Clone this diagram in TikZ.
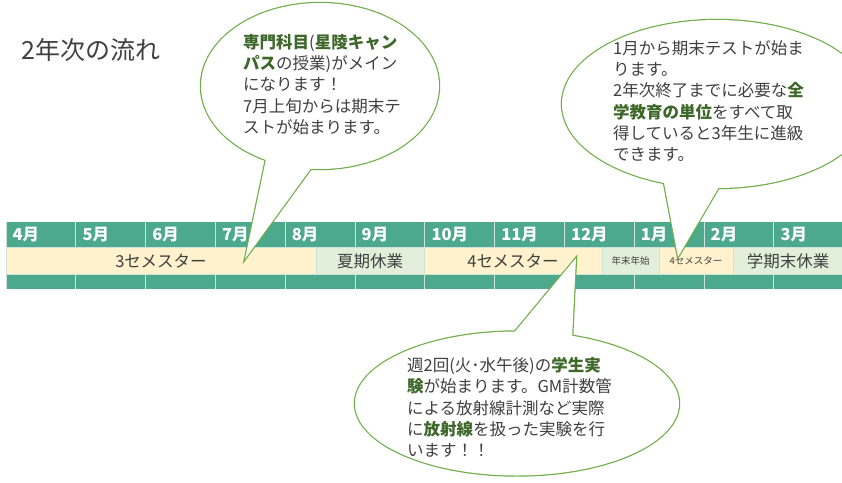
\documentclass[tikz,border=0pt]{standalone}
\usepackage{fontspec}
\setmainfont{Noto Sans CJK JP}
\usetikzlibrary{calc}
\definecolor{barteal}{RGB}{76,169,139}
\definecolor{semcream}{RGB}{255,242,204}
\definecolor{breakgreen}{RGB}{226,239,218}
\definecolor{gridline}{RGB}{205,226,216}
\definecolor{bubbleline}{RGB}{112,173,71}
\definecolor{txtgray}{RGB}{64,64,64}
\definecolor{hlgreen}{RGB}{62,104,42}
\newcommand{\grn}[1]{{\bfseries\color{hlgreen}#1}}

\begin{document}
\begin{tikzpicture}[x=1pt,y=-1pt,
  cell/.style={draw=gridline,line width=0.8pt},
  monthlbl/.style={white,font=\fontsize{16.5}{20}\selectfont\bfseries,anchor=west,inner sep=0pt},
  seglbl/.style={txtgray,font=\fontsize{16.5}{20}\selectfont,inner sep=0pt},
  smalllbl/.style={txtgray,font=\fontsize{9.5}{12}\selectfont,inner sep=0pt},
  bubble/.style={draw=bubbleline,line width=2.4pt,line join=miter},
  bubbletxt/.style={txtgray,font=\fontsize{16.5}{21.3}\selectfont,align=left,anchor=north west,inner sep=0pt}]
\clip (0,0) rectangle (842,482);
\fill[white] (0,0) rectangle (842,482);
\node[txtgray,font=\fontsize{25}{30}\selectfont,anchor=west,inner sep=0pt] (title) at (21,50) {2年次の流れ};
\fill[barteal] (6,222) rectangle (850,247.5);
\fill[barteal] (6,274) rectangle (850,288.5);
\foreach \m [count=\i from 0] in {4,5,6,7,8,9,10,11,12,1,2,3} {
  \draw[gridline,line width=0.8pt] ({6+69.8*\i},222) -- ({6+69.8*\i},247.5);
  \draw[gridline,line width=0.8pt] ({6+69.8*\i},274) -- ({6+69.8*\i},288.5);
  \node[monthlbl] (mon\m) at ({12.5+69.8*\i},235) {{\m}月};
}
\draw[cell,fill=semcream] (6,247.5) rectangle (316,274);
\draw[cell,fill=breakgreen] (316,247.5) rectangle (424.5,274);
\draw[cell,fill=semcream] (424.5,247.5) rectangle (602,274);
\draw[cell,fill=breakgreen] (602,247.5) rectangle (659,274);
\draw[cell,fill=semcream] (659,247.5) rectangle (733,274);
\draw[cell,fill=breakgreen] (733,247.5) rectangle (850,274);
\node[seglbl] (sem3) at (161,261) {3セメスター};
\node[seglbl] (summer) at (370,261) {夏期休業};
\node[seglbl] (sem4) at (513,261) {4セメスター};
\node[smalllbl] (newyear) at (630.5,261) {年末年始};
\node[smalllbl] (sem4b) at (696,261) {4セメスター};
\node[seglbl] (spring) at (788,261) {学期末休業};

\coordinate (tip7) at (245,259);
\coordinate (base7l) at (266,159);
\coordinate (base7r) at (312,167);
\draw[bubble] (320,86) ellipse[x radius=119,y radius=83];
\draw[bubble] ($(tip7)!1.25!(base7l)$) -- (tip7) -- ($(tip7)!1.25!(base7r)$);
\fill[white] (320,86) ellipse[x radius=119,y radius=83];
\fill[white] ($(tip7)!1.25!(base7l)$) -- (tip7) -- ($(tip7)!1.25!(base7r)$) -- cycle;

\coordinate (tip1) at (678,257);
\coordinate (base1l) at (664,183);
\coordinate (base1r) at (719,187);
\draw[bubble] (717,104) ellipse[x radius=155,y radius=84];
\draw[bubble] ($(tip1)!1.25!(base1l)$) -- (tip1) -- ($(tip1)!1.25!(base1r)$);
\fill[white] (717,104) ellipse[x radius=155,y radius=84];
\fill[white] ($(tip1)!1.25!(base1l)$) -- (tip1) -- ($(tip1)!1.25!(base1r)$) -- cycle;

\coordinate (tip12) at (576,258);
\coordinate (base12l) at (513,334);
\coordinate (base12r) at (572,339);
\draw[bubble] (517,403.5) ellipse[x radius=162,y radius=72];
\draw[bubble] ($(tip12)!1.25!(base12l)$) -- (tip12) -- ($(tip12)!1.25!(base12r)$);
\fill[white] (517,403.5) ellipse[x radius=162,y radius=72];
\fill[white] ($(tip12)!1.25!(base12l)$) -- (tip12) -- ($(tip12)!1.25!(base12r)$) -- cycle;

\node[bubbletxt] (note7) at (243,34) {\grn{専門科目}(\grn{星陵キャン}\\\grn{パス}の授業)がメイン\\になります！\\7月上旬からは期末テ\\ストが始まります。};
\node[bubbletxt] (note1) at (613,40) {1月から期末テストが始ま\\ります。\\2年次終了までに必要な\grn{全}\\\grn{学教育の単位}をすべて取\\得していると3年生に進級\\できます。};
\node[bubbletxt] (note12) at (407,357) {週2回(火･水午後)の\grn{学生実}\\\grn{験}が始まります。GM計数管\\による放射線計測など実際\\に\grn{放射線}を扱った実験を行\\います！！};
\end{tikzpicture}
\end{document}
